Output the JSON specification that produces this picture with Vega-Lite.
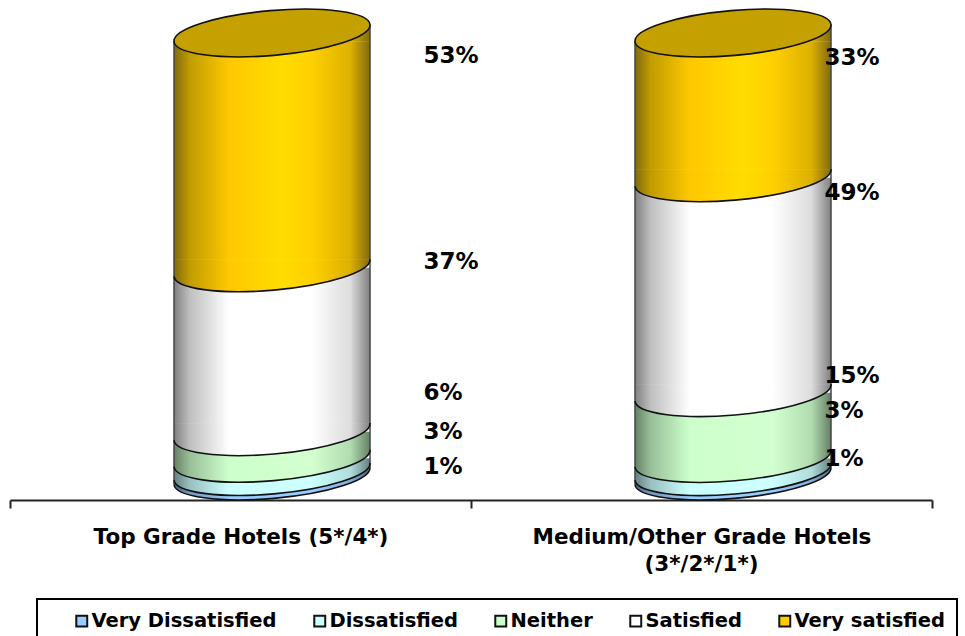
{
"$schema":"https://vega.github.io/schema/vega-lite/v6.json",
"width":922,"height":500,
"padding":{"left":9,"top":0,"right":0,"bottom":0},
"background":"white",
"data":{"values":[
{"cat":"Top Grade Hotels (5*/4*)","seg":"Very Dissatisfied","rank":1,"value":1,"label":"1%","labelAt":0.020},
{"cat":"Top Grade Hotels (5*/4*)","seg":"Dissatisfied","rank":2,"value":3,"label":"3%","labelAt":0.099},
{"cat":"Top Grade Hotels (5*/4*)","seg":"Neither","rank":3,"value":6,"label":"6%","labelAt":0.187},
{"cat":"Top Grade Hotels (5*/4*)","seg":"Satisfied","rank":4,"value":37,"label":"37%","labelAt":0.483},
{"cat":"Top Grade Hotels (5*/4*)","seg":"Very satisfied","rank":5,"value":53,"label":"53%","labelAt":0.948},
{"cat":"Medium/Other Grade Hotels","seg":"Very Dissatisfied","rank":1,"value":1,"label":"1%","labelAt":0.038},
{"cat":"Medium/Other Grade Hotels","seg":"Dissatisfied","rank":2,"value":3,"label":"3%","labelAt":0.147},
{"cat":"Medium/Other Grade Hotels","seg":"Neither","rank":3,"value":15,"label":"15%","labelAt":0.226},
{"cat":"Medium/Other Grade Hotels","seg":"Satisfied","rank":4,"value":49,"label":"49%","labelAt":0.639},
{"cat":"Medium/Other Grade Hotels","seg":"Very satisfied","rank":5,"value":33,"label":"33%","labelAt":0.944}
]},
"transform":[{"stack":"value","groupby":["cat"],"sort":[{"field":"rank","order":"ascending"}],"offset":"normalize","as":["y0","y1"]}],
"encoding":{"x":{"field":"cat","type":"nominal","sort":null,"title":null,"scale":{"paddingInner":0,"paddingOuter":0},
 "axis":{"labelAngle":0,"domainColor":"#222","domainWidth":2,"tickColor":"#222","tickWidth":2,"tickSize":8,"tickBand":"extent","labelColor":"#000","labelFont":"DejaVu Sans","labelFontWeight":"bold","labelFontSize":21.5,"labelPadding":18,"labelLimit":500,"grid":false}}},
"layer":[
{"mark":{"type":"bar","width":1,"xOffset":31.5},
 "encoding":{"y":{"field":"y0","type":"quantitative","axis":null,"scale":{"domain":[-0.0542,1.0745],"nice":false,"zero":false}},"y2":{"field":"y1"},
 "color":{"field":"seg","type":"nominal","scale":{"domain":["Very Dissatisfied","Dissatisfied","Neither","Satisfied","Very satisfied"],"range":["#99ccff","#ccffff","#ccffcc","#ffffff","#ffcc00"]},
 "legend":{"orient":"none","legendX":27,"legendY":599,"direction":"horizontal","columns":5,"title":"\u00a0","titleOrient":"left","titlePadding":23,"titleFontSize":6,"symbolType":"square","symbolSize":120,"symbolStrokeColor":"#111","symbolStrokeWidth":2,"labelFont":"DejaVu Sans","labelFontWeight":"bold","labelFontSize":19.5,"labelColor":"#000","labelOffset":0,"labelLimit":400,"columnPadding":33,"padding":12,"strokeColor":"#000"}}}},
{"transform":[{"filter":"datum.rank==1"}],"mark":{"type":"bar","width":196,"xOffset":31.5,"yOffset":-8,"y2Offset":-8.5,"fill":{"gradient":"linear","stops":[{"offset":0,"color":"#4d6680"},{"offset":0.08,"color":"#7399bf"},{"offset":0.28,"color":"#99ccff"},{"offset":0.7,"color":"#99ccff"},{"offset":0.9,"color":"#84b0dc"},{"offset":1,"color":"#4d6680"}]}},
 "encoding":{"y":{"field":"y0","type":"quantitative","axis":null,"scale":{"domain":[-0.0542,1.0745],"nice":false,"zero":false}},"y2":{"field":"y1"}}},
{"transform":[{"filter":"datum.rank==1"}],"mark":{"type":"point","shape":"M-1,-0.087 L-1,0.087 C-0.989,0.213 -0.532,0.276 0.02,0.228 C0.572,0.18 1.011,0.039 1,-0.087 Z","size":38416,"xOffset":31.5,"filled":true,"opacity":1,"fill":{"gradient":"linear","stops":[{"offset":0,"color":"#4d6680"},{"offset":0.08,"color":"#7399bf"},{"offset":0.28,"color":"#99ccff"},{"offset":0.7,"color":"#99ccff"},{"offset":0.9,"color":"#84b0dc"},{"offset":1,"color":"#4d6680"}]}},
 "encoding":{"y":{"field":"y0","type":"quantitative","axis":null,"scale":{"domain":[-0.0542,1.0745],"nice":false,"zero":false}}}},
{"transform":[{"filter":"datum.rank==2"}],"mark":{"type":"bar","width":196,"xOffset":31.5,"yOffset":-8,"fill":{"gradient":"linear","stops":[{"offset":0,"color":"#668080"},{"offset":0.08,"color":"#99bfbf"},{"offset":0.28,"color":"#ccffff"},{"offset":0.7,"color":"#ccffff"},{"offset":0.9,"color":"#b0dcdc"},{"offset":1,"color":"#668080"}]}},
 "encoding":{"y":{"field":"y0","type":"quantitative","axis":null,"scale":{"domain":[-0.0542,1.0745],"nice":false,"zero":false}},"y2":{"field":"y1"}}},
{"transform":[{"filter":"datum.rank==2"}],"mark":{"type":"point","shape":"M-1,-0.087 L-1,0.087 C-0.989,0.213 -0.532,0.276 0.02,0.228 C0.572,0.18 1.011,0.039 1,-0.087 Z","size":38416,"xOffset":31.5,"filled":true,"opacity":1,"fill":{"gradient":"linear","stops":[{"offset":0,"color":"#668080"},{"offset":0.08,"color":"#99bfbf"},{"offset":0.28,"color":"#ccffff"},{"offset":0.7,"color":"#ccffff"},{"offset":0.9,"color":"#b0dcdc"},{"offset":1,"color":"#668080"}]}},
 "encoding":{"y":{"field":"y0","type":"quantitative","axis":null,"scale":{"domain":[-0.0542,1.0745],"nice":false,"zero":false}}}},
{"transform":[{"filter":"datum.rank==3"}],"mark":{"type":"bar","width":196,"xOffset":31.5,"yOffset":-8,"fill":{"gradient":"linear","stops":[{"offset":0,"color":"#668066"},{"offset":0.08,"color":"#99bf99"},{"offset":0.28,"color":"#ccffcc"},{"offset":0.7,"color":"#d4ffd0"},{"offset":0.9,"color":"#b0dcb0"},{"offset":1,"color":"#668066"}]}},
 "encoding":{"y":{"field":"y0","type":"quantitative","axis":null,"scale":{"domain":[-0.0542,1.0745],"nice":false,"zero":false}},"y2":{"field":"y1"}}},
{"transform":[{"filter":"datum.rank==3"}],"mark":{"type":"point","shape":"M-1,-0.087 L-1,0.087 C-0.989,0.213 -0.532,0.276 0.02,0.228 C0.572,0.18 1.011,0.039 1,-0.087 Z","size":38416,"xOffset":31.5,"filled":true,"opacity":1,"fill":{"gradient":"linear","stops":[{"offset":0,"color":"#668066"},{"offset":0.08,"color":"#99bf99"},{"offset":0.28,"color":"#ccffcc"},{"offset":0.7,"color":"#d4ffd0"},{"offset":0.9,"color":"#b0dcb0"},{"offset":1,"color":"#668066"}]}},
 "encoding":{"y":{"field":"y0","type":"quantitative","axis":null,"scale":{"domain":[-0.0542,1.0745],"nice":false,"zero":false}}}},
{"transform":[{"filter":"datum.rank==4"}],"mark":{"type":"bar","width":196,"xOffset":31.5,"yOffset":-8,"fill":{"gradient":"linear","stops":[{"offset":0,"color":"#808080"},{"offset":0.08,"color":"#bfbfbf"},{"offset":0.28,"color":"#ffffff"},{"offset":0.7,"color":"#ffffff"},{"offset":0.9,"color":"#dcdcdc"},{"offset":1,"color":"#808080"}]}},
 "encoding":{"y":{"field":"y0","type":"quantitative","axis":null,"scale":{"domain":[-0.0542,1.0745],"nice":false,"zero":false}},"y2":{"field":"y1"}}},
{"transform":[{"filter":"datum.rank==4"}],"mark":{"type":"point","shape":"M-1,-0.087 L-1,0.087 C-0.989,0.213 -0.532,0.276 0.02,0.228 C0.572,0.18 1.011,0.039 1,-0.087 Z","size":38416,"xOffset":31.5,"filled":true,"opacity":1,"fill":{"gradient":"linear","stops":[{"offset":0,"color":"#808080"},{"offset":0.08,"color":"#bfbfbf"},{"offset":0.28,"color":"#ffffff"},{"offset":0.7,"color":"#ffffff"},{"offset":0.9,"color":"#dcdcdc"},{"offset":1,"color":"#808080"}]}},
 "encoding":{"y":{"field":"y0","type":"quantitative","axis":null,"scale":{"domain":[-0.0542,1.0745],"nice":false,"zero":false}}}},
{"transform":[{"filter":"datum.rank==5"}],"mark":{"type":"bar","width":196,"xOffset":31.5,"yOffset":-8,"y2Offset":8.5,"fill":{"gradient":"linear","stops":[{"offset":0,"color":"#806a10"},{"offset":0.08,"color":"#c09c00"},{"offset":0.28,"color":"#ffc800"},{"offset":0.55,"color":"#ffdc00"},{"offset":0.7,"color":"#ffd000"},{"offset":0.9,"color":"#dcb000"},{"offset":1,"color":"#806a10"}]}},
 "encoding":{"y":{"field":"y0","type":"quantitative","axis":null,"scale":{"domain":[-0.0542,1.0745],"nice":false,"zero":false}},"y2":{"field":"y1"}}},
{"transform":[{"filter":"datum.rank==5"}],"mark":{"type":"point","shape":"M-1,-0.087 L-1,0.087 C-0.989,0.213 -0.532,0.276 0.02,0.228 C0.572,0.18 1.011,0.039 1,-0.087 Z","size":38416,"xOffset":31.5,"filled":true,"opacity":1,"fill":{"gradient":"linear","stops":[{"offset":0,"color":"#806a10"},{"offset":0.08,"color":"#c09c00"},{"offset":0.28,"color":"#ffc800"},{"offset":0.55,"color":"#ffdc00"},{"offset":0.7,"color":"#ffd000"},{"offset":0.9,"color":"#dcb000"},{"offset":1,"color":"#806a10"}]}},
 "encoding":{"y":{"field":"y0","type":"quantitative","axis":null,"scale":{"domain":[-0.0542,1.0745],"nice":false,"zero":false}}}},
{"transform":[{"filter":"datum.rank==5"}],"mark":{"type":"point","shape":"M-1,0.09 L1,-0.087 L1,0.09 Z","size":38416,"xOffset":31.5,"filled":true,"opacity":1,"fill":{"gradient":"linear","stops":[{"offset":0,"color":"#806a10"},{"offset":0.08,"color":"#c09c00"},{"offset":0.28,"color":"#ffc800"},{"offset":0.55,"color":"#ffdc00"},{"offset":0.7,"color":"#ffd000"},{"offset":0.9,"color":"#dcb000"},{"offset":1,"color":"#806a10"}]}},
 "encoding":{"y":{"field":"y1","type":"quantitative","axis":null,"scale":{"domain":[-0.0542,1.0745],"nice":false,"zero":false}}}},
{"transform":[{"filter":"datum.rank==5"}],"mark":{"type":"rule","xOffset":-66.5,"yOffset":8.5,"y2Offset":8.5,"color":"#444","strokeWidth":1.5},
 "encoding":{"y":{"datum":0,"type":"quantitative","axis":null,"scale":{"domain":[-0.0542,1.0745],"nice":false,"zero":false}},"y2":{"datum":1}}},
{"transform":[{"filter":"datum.rank==5"}],"mark":{"type":"rule","xOffset":129.5,"yOffset":-8.5,"y2Offset":-8.5,"color":"#444","strokeWidth":1.5},
 "encoding":{"y":{"datum":0,"type":"quantitative","axis":null,"scale":{"domain":[-0.0542,1.0745],"nice":false,"zero":false}},"y2":{"datum":1}}},
{"mark":{"type":"point","shape":"M-1,0.087 C-0.989,0.213 -0.532,0.276 0.02,0.228 C0.572,0.18 1.011,0.039 1,-0.087","size":38416,"xOffset":31.5,"filled":false,"opacity":1,"stroke":"#111","strokeWidth":1.6},
 "encoding":{"y":{"field":"y0","type":"quantitative","axis":null,"scale":{"domain":[-0.0542,1.0745],"nice":false,"zero":false}}}},
{"transform":[{"filter":"datum.rank==5"}],"mark":{"type":"point","shape":"M-1,0.087 C-0.989,0.213 -0.532,0.276 0.02,0.228 C0.572,0.18 1.011,0.039 1,-0.087 C0.989,-0.213 0.532,-0.276 -0.02,-0.228 C-0.572,-0.18 -1.011,-0.039 -1,0.087 Z","size":38416,"xOffset":31.5,"filled":true,"opacity":1,"fill":"#c4a000","stroke":"#111","strokeWidth":1.6},
 "encoding":{"y":{"field":"y1","type":"quantitative","axis":null,"scale":{"domain":[-0.0542,1.0745],"nice":false,"zero":false}}}},
{"transform":[{"filter":"datum.cat[0]=='T'"}],"mark":{"type":"text","align":"left","baseline":"middle","dx":183,"font":"DejaVu Sans","fontWeight":"bold","fontSize":23,"color":"#000"},
 "encoding":{"y":{"field":"labelAt","type":"quantitative","axis":null,"scale":{"domain":[-0.0542,1.0745],"nice":false,"zero":false}},"text":{"field":"label"}}},
{"transform":[{"filter":"datum.cat[0]=='M'"}],"mark":{"type":"text","align":"left","baseline":"middle","dx":123,"font":"DejaVu Sans","fontWeight":"bold","fontSize":23,"color":"#000"},
 "encoding":{"y":{"field":"labelAt","type":"quantitative","axis":null,"scale":{"domain":[-0.0542,1.0745],"nice":false,"zero":false}},"text":{"field":"label"}}},
{"transform":[{"filter":"datum.cat[0]=='M' && datum.rank==5"}],"mark":{"type":"text","align":"center","baseline":"middle","font":"DejaVu Sans","fontWeight":"bold","fontSize":21.5,"color":"#000"},
 "encoding":{"y":{"datum":-0.2009,"type":"quantitative","axis":null,"scale":{"domain":[-0.0542,1.0745],"nice":false,"zero":false}},"text":{"value":"(3*/2*/1*)"}}}
],
"config":{"view":{"stroke":null},"legend":{"strokeWidth":2}}
}
